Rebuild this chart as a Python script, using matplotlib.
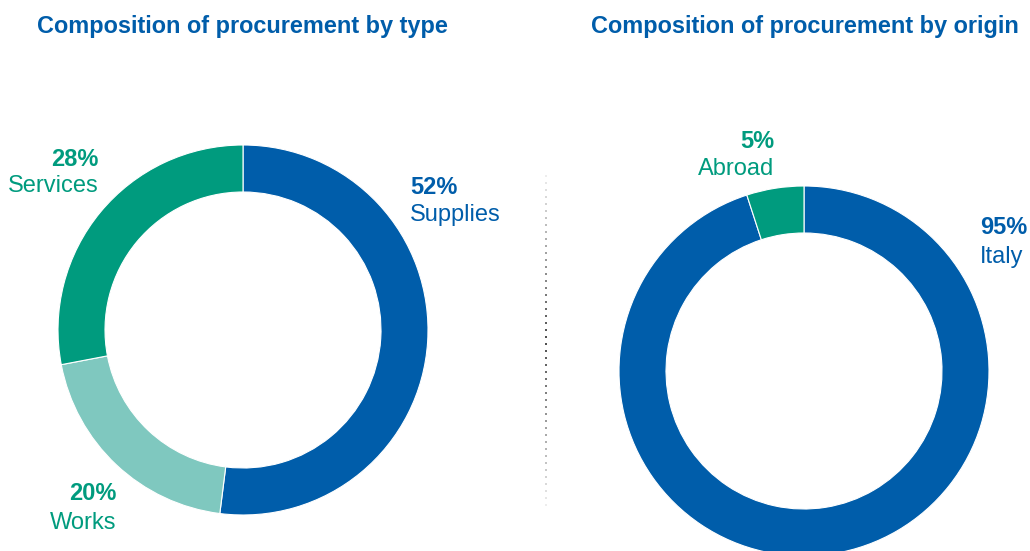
import matplotlib
matplotlib.use("Agg")
import matplotlib.pyplot as plt
import numpy as np

plt.rcParams['font.family'] = ['Liberation Sans', 'DejaVu Sans']

# Data
type_labels = ["Supplies", "Works", "Services"]
type_values = [52, 20, 28]
origin_labels = ["Italy", "Abroad"]
origin_values = [95, 5]

titles = ["Composition of procurement by type", "Composition of procurement by origin"]

BLUE = "#005DAA"
GREEN = "#009B7E"
LTEAL = "#7FC8BF"

W, H = 1030, 551
fig = plt.figure(figsize=(W / 100, H / 100), dpi=100)
ax = fig.add_axes([0, 0, 1, 1])

def py(y):
    return H - y

R = 185
ring = 47
wp = dict(width=ring, edgecolor='white', linewidth=0.8)

ax.pie(type_values, colors=[BLUE, LTEAL, GREEN], startangle=90, counterclock=False,
       radius=R, center=(243, py(330)), wedgeprops=wp, frame=True)
ax.pie(origin_values, colors=[BLUE, GREEN], startangle=90, counterclock=False,
       radius=R, center=(804, py(371)), wedgeprops=wp, frame=True)
ax.set_xlim(0, W)
ax.set_ylim(0, H)
ax.set_aspect('equal')
ax.axis('off')

# Titles
fs_t = 16.9
ax.text(37, py(26), titles[0], fontsize=fs_t, fontweight='bold', color=BLUE, va='center', ha='left')
ax.text(591, py(26), titles[1], fontsize=fs_t, fontweight='bold', color=BLUE, va='center', ha='left')

fs = 17
def label(x, y1, y2, pct, name, color, ha):
    ax.text(x, py(y1 + 2), f"{pct}%", fontsize=fs, fontweight='bold', color=color, ha=ha, va='center')
    ax.text(x, py(y2 + 2), name, fontsize=fs, color=color, ha=ha, va='center')

label(410, 185, 213, type_values[0], type_labels[0], BLUE, 'left')
label(116, 492, 521, type_values[1], type_labels[1], GREEN, 'right')
label(99, 157, 184, type_values[2], type_labels[2], GREEN, 'right')
label(980, 226, 255, origin_values[0], origin_labels[0], BLUE, 'left')
label(774, 140, 167, origin_values[1], origin_labels[1], GREEN, 'right')

# Dotted divider fading at ends
ys = np.arange(176, 506, 7)
t = (ys - ys.min()) / (ys.max() - ys.min())
shade = np.abs(t - 0.5) * 2  # 0 center, 1 ends
greys = [(0.3 + 0.63 * s, 0.3 + 0.63 * s, 0.3 + 0.63 * s) for s in shade]
ax.scatter(np.full_like(ys, 546, dtype=float), [py(y) for y in ys], s=2.5, c=greys,
           marker='s', linewidths=0)

fig.savefig("out.png", dpi=100)
